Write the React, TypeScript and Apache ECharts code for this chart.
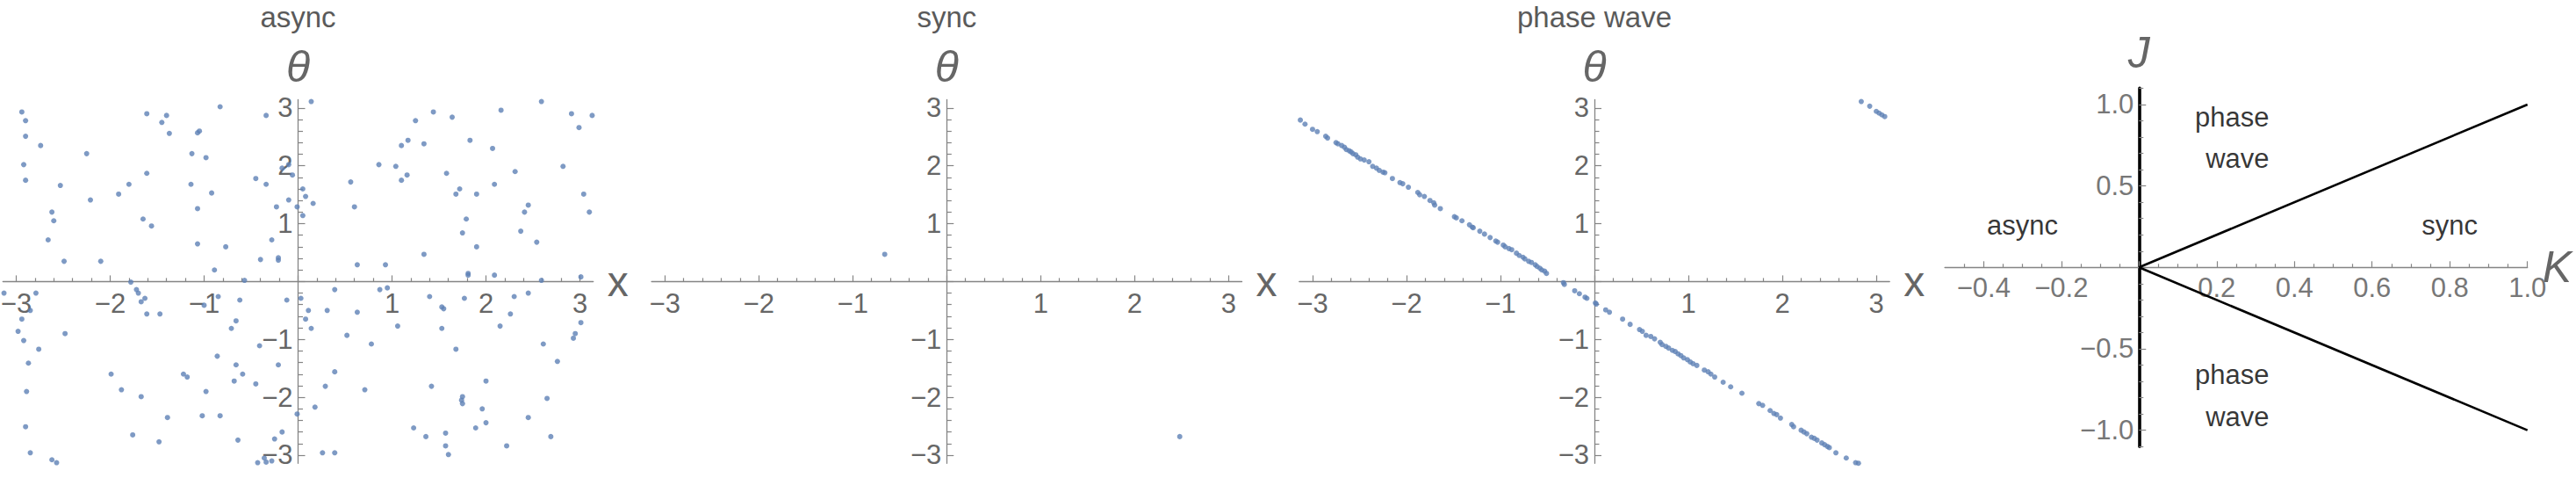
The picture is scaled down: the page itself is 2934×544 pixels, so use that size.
import React, { useEffect, useRef } from 'react';
import * as echarts from 'echarts';

const FONT = "'Liberation Sans', Arial, Helvetica, sans-serif";
const PI = Math.PI;

// ---------------- data ----------------
const panelTitles = ['async', 'sync', 'phase wave'];

const asyncPoints: number[][] = [
  [-2.94, 2.93], [-2.90, 2.78], [-2.90, 2.51], [-2.74, 2.35], [-2.92, 2.02], [-2.90, 1.75], [-2.53, 1.66],
  [-2.25, 2.21], [-2.21, 1.41], [-2.62, 1.20], [-2.60, 1.05], [-2.66, 0.72], [-2.49, 0.35], [-2.10, 0.35],
  [-1.91, 1.51], [-1.80, 1.68], [-1.61, 1.87], [-1.61, 2.90], [-1.45, 2.75], [-1.40, 2.87], [-1.37, 2.56],
  [-1.65, 1.08], [-1.56, 0.96], [-1.13, 2.21], [-1.07, 2.57], [-1.05, 2.60], [-0.98, 2.14], [-1.14, 1.68],
  [-0.92, 1.53], [-1.07, 1.26], [-1.07, 0.65], [-0.77, 0.60], [-0.89, 0.20], [-0.83, 3.02], [-0.34, 2.87],
  [-0.45, 1.78], [-0.34, 1.68], [-0.17, 1.96], [-0.10, 2.02], [-0.06, 1.84], [-0.10, 1.41], [-0.23, 1.29],
  [-0.28, 0.72], [-0.40, 0.38], [-0.21, 0.41], [-0.21, 0.37], [-0.57, 0.02], [-1.78, -0.01], [-0.01, 1.29],
  [0.14, 3.11], [0.05, 1.60], [0.08, 1.47], [0.16, 1.35], [0.05, 1.14], [0.56, 1.72], [0.60, 1.29],
  [0.86, 2.02], [1.04, 1.99], [1.10, 1.75], [1.16, 1.84], [1.10, 2.35], [1.17, 2.44], [1.25, 2.78],
  [1.34, 2.38], [1.44, 2.93], [1.64, 2.84], [1.83, 2.44], [1.58, 1.87], [1.72, 1.60], [1.68, 1.51],
  [1.90, 1.51], [1.79, 1.08], [1.75, 0.84], [1.90, 0.60], [1.34, 0.47], [0.63, 0.29], [0.93, 0.29],
  [1.81, 0.14], [1.81, 0.11], [2.16, 2.96], [2.07, 2.30], [2.09, 1.68], [2.31, 1.90], [2.41, 1.20],
  [2.45, 1.32], [2.37, 0.87], [2.54, 0.68], [2.59, 3.11], [2.91, 2.90], [2.99, 2.66], [2.82, 1.99],
  [3.04, 1.51], [3.10, 1.20], [3.13, 2.87], [2.09, 0.11], [2.59, 0.02], [3.01, 0.08],
  [-3.13, -0.20], [-2.79, -0.20], [-2.85, -0.50], [-2.94, -0.65], [-2.98, -0.86], [-2.92, -1.02],
  [-2.76, -1.17], [-2.87, -1.41], [-2.89, -1.90], [-2.90, -2.51], [-2.85, -2.96], [-2.62, -3.08],
  [-2.57, -3.13], [-2.48, -0.90], [-1.99, -1.60], [-1.88, -1.87], [-1.72, -0.14], [-1.70, -0.20],
  [-1.63, -0.29], [-1.67, -0.35], [-1.61, -0.56], [-1.47, -0.56], [-1.67, -1.99], [-1.76, -2.65],
  [-1.48, -2.77], [-1.39, -2.35], [-1.22, -1.60], [-1.18, -1.65], [-1.00, -0.41], [-0.85, -0.26],
  [-0.98, -1.90], [-1.02, -2.32], [-0.83, -2.32], [-0.86, -1.29], [-0.71, -0.81], [-0.66, -0.68],
  [-0.62, -0.32], [-0.66, -1.44], [-0.59, -1.60], [-0.68, -1.72], [-0.45, -1.77], [-0.41, -1.11],
  [-0.21, -1.44], [-0.12, -0.32], [-0.64, -2.74], [-0.25, -2.72], [-0.17, -2.60], [-0.01, -2.29],
  [-0.43, -3.13], [-0.34, -3.12], [-0.28, -3.10], [-0.36, -3.05],
  [0.03, -0.29], [0.11, -0.50], [0.08, -0.65], [0.14, -0.81], [0.31, -0.50], [0.39, -0.14], [0.63, -0.53],
  [0.52, -0.93], [0.78, -1.08], [0.87, -0.14], [0.95, -0.11], [1.06, -0.77], [0.39, -1.56], [0.29, -1.81],
  [0.71, -1.87], [0.18, -2.17], [0.26, -2.96], [0.39, -2.96], [1.40, -0.26], [1.53, -0.44], [1.55, -0.47],
  [1.53, -0.81], [1.68, -1.17], [1.42, -1.81], [1.23, -2.53], [1.36, -2.68], [1.57, -2.62], [1.57, -2.84],
  [1.60, -2.99], [1.77, -0.29], [1.75, -1.99], [1.74, -2.05], [1.75, -2.11], [1.96, -2.20], [2.00, -1.72],
  [2.00, -2.44], [1.89, -2.53], [2.15, -0.77], [2.26, -0.56], [2.30, -0.26], [2.45, -0.20], [2.22, -2.84],
  [2.45, -2.35], [2.61, -1.08], [2.65, -2.02], [2.69, -2.68], [2.76, -1.38], [2.93, -0.98], [2.95, -0.90],
  [3.01, -0.71],
];

const syncPoints: number[][] = [
  [-0.66, 0.47], [2.48, -2.68],
];

const phaseWavePoints: number[][] = [
  [-3.13, 2.79], [-3.08, 2.72], [-3.00, 2.63], [-2.95, 2.59], [-2.86, 2.51], [-2.84, 2.48], [-2.75, 2.40],
  [-2.73, 2.38], [-2.69, 2.35], [-2.66, 2.32], [-2.64, 2.28], [-2.61, 2.26], [-2.59, 2.24], [-2.57, 2.21],
  [-2.54, 2.19], [-2.52, 2.15], [-2.49, 2.12], [-2.45, 2.10], [-2.40, 2.07], [-2.36, 1.99], [-2.32, 1.96],
  [-2.29, 1.92], [-2.25, 1.89], [-2.23, 1.88], [-2.15, 1.78], [-2.07, 1.71], [-2.04, 1.69], [-1.98, 1.63],
  [-1.88, 1.54], [-1.86, 1.50], [-1.81, 1.47], [-1.75, 1.40], [-1.71, 1.36], [-1.70, 1.32], [-1.64, 1.26],
  [-1.49, 1.12], [-1.47, 1.10], [-1.41, 1.05], [-1.33, 0.98], [-1.30, 0.94], [-1.29, 0.93], [-1.22, 0.87],
  [-1.17, 0.82], [-1.11, 0.76], [-1.05, 0.70], [-1.03, 0.68], [-0.97, 0.63], [-0.95, 0.60], [-0.91, 0.57],
  [-0.88, 0.55], [-0.83, 0.49], [-0.80, 0.45], [-0.76, 0.42], [-0.74, 0.39], [-0.70, 0.35], [-0.67, 0.33],
  [-0.63, 0.29], [-0.61, 0.26], [-0.58, 0.23], [-0.56, 0.20], [-0.53, 0.18], [-0.51, 0.14],
  [-0.33, -0.02], [-0.32, -0.05], [-0.21, -0.16], [-0.16, -0.21], [-0.10, -0.27], [-0.08, -0.29],
  [0.01, -0.37], [0.02, -0.39],
  [0.12, -0.49], [0.16, -0.53], [0.30, -0.65], [0.38, -0.74], [0.48, -0.83], [0.51, -0.86], [0.55, -0.93],
  [0.60, -0.95], [0.64, -0.99], [0.70, -1.05], [0.72, -1.09], [0.76, -1.12], [0.79, -1.15], [0.83, -1.19],
  [0.86, -1.21], [0.89, -1.25], [0.92, -1.28], [0.95, -1.32], [0.99, -1.35], [1.02, -1.39], [1.05, -1.42],
  [1.09, -1.45], [1.17, -1.53], [1.21, -1.56], [1.24, -1.60], [1.28, -1.65], [1.37, -1.74], [1.45, -1.82],
  [1.57, -1.93], [1.75, -2.11], [1.79, -2.14], [1.87, -2.23], [1.91, -2.28], [1.94, -2.30], [1.98, -2.36],
  [2.10, -2.47], [2.12, -2.51], [2.20, -2.57], [2.23, -2.60], [2.26, -2.63], [2.31, -2.69], [2.34, -2.71],
  [2.37, -2.74], [2.42, -2.79], [2.45, -2.82], [2.48, -2.85], [2.50, -2.87], [2.57, -2.96], [2.68, -3.05],
  [2.78, -3.13], [2.81, -3.14],
  [2.84, 3.11], [2.93, 3.03], [3.00, 2.94], [3.03, 2.91], [3.06, 2.88], [3.09, 2.85],
];

const boundaryUpper: number[][] = [[0, 0], [1, 1]];
const boundaryLower: number[][] = [[0, 0], [1, -1]];

const regionLabels = [
  { text: 'async', K: -0.30, J: 0.26, align: 'center' },
  { text: 'sync', K: 0.80, J: 0.26, align: 'center' },
  { text: 'phase\nwave', K: 0.335, J: 0.795, align: 'right' },
  { text: 'phase\nwave', K: 0.335, J: -0.79, align: 'right' },
];

const thetaMajorTicks = [-3, -2, -1, 0, 1, 2, 3];
const thetaTickLabels = [-3, -2, -1, 1, 2, 3];
const kMajorTicks = [-0.4, -0.2, 0, 0.2, 0.4, 0.6, 0.8, 1.0];
const kTickLabels = [-0.4, -0.2, 0.2, 0.4, 0.6, 0.8, 1.0];
const jMajorTicks = [-1, -0.5, 0, 0.5, 1];
const jTickLabels = [-1, -0.5, 0.5, 1];

// ---------------- helpers ----------------
function minorTicks(lo: number, hi: number, step: number, majors: number[], skip: number[] = []) {
  const out: number[] = [];
  const n0 = Math.ceil(lo / step - 1e-9);
  const n1 = Math.floor(hi / step + 1e-9);
  for (let n = n0; n <= n1; n++) {
    const v = Math.round(n * step * 1000) / 1000;
    if (majors.some((m) => Math.abs(m - v) < 1e-6)) continue;
    if (skip.some((m) => Math.abs(m - v) < 1e-6)) continue;
    out.push(v);
  }
  return out;
}

const MINUS = '\u2212';
const fmtInt = (v: number) => (v < 0 ? MINUS + Math.abs(v) : String(v));
const fmtDec = (v: number) => (v < 0 ? MINUS : '') + Math.abs(v).toFixed(1);

const AXIS_GRAY = '#858585';
const LABEL_GRAY = '#666666';
const TICK_FONT = 31;

interface AxisSpec {
  grid: number;
  dim: 'x' | 'y';
  min: number;
  max: number;
  crossFrac: number;
  span: number;
  majors: number[];
  labels: number[];
  minors: number[];
  fmt: (v: number) => string;
  name: string;
  nameGap: number;
  nameStyle: any;
  lineColor: string;
  lineWidth: number;
  majorLen: number;
  minorLen: number;
  labelMargin: number;
  labelColor: string;
}

function buildAxes(s: AxisSpec) {
  const position = s.dim === 'x' ? 'bottom' : 'left';
  const offset = -s.span * s.crossFrac;
  return [
    {
      type: 'value',
      gridIndex: s.grid,
      min: s.min,
      max: s.max,
      position,
      offset,
      axisLine: {
        show: true,
        onZero: false,
        lineStyle: { color: s.lineColor, width: s.lineWidth },
      },
      axisTick: {
        show: true,
        inside: true,
        length: s.majorLen,
        customValues: s.majors,
        lineStyle: { color: AXIS_GRAY, width: 1.2 },
      },
      minorTick: { show: false },
      axisLabel: {
        show: true,
        customValues: s.labels,
        formatter: s.fmt,
        margin: s.labelMargin,
        fontSize: TICK_FONT,
        color: s.labelColor,
        fontFamily: FONT,
      },
      splitLine: { show: false },
      name: s.name,
      nameLocation: 'end',
      nameGap: s.nameGap,
      nameTextStyle: s.nameStyle,
      nameMoveOverlap: false,
      z: 1,
    },
    {
      type: 'value',
      gridIndex: s.grid,
      min: s.min,
      max: s.max,
      position,
      offset,
      axisLine: { show: false, onZero: false },
      axisTick: {
        show: true,
        inside: true,
        length: s.minorLen,
        customValues: s.minors,
        lineStyle: { color: AXIS_GRAY, width: 1.2 },
      },
      minorTick: { show: false },
      axisLabel: { show: false },
      splitLine: { show: false },
      z: 1,
    },
  ];
}

// ---------------- layout ----------------
const THETA_LEFTS = [3.3, 742.1, 1479.8];
const THETA_TOP = 113.5;
const THETA_W = 672.4;
const THETA_H = 413.8;
const PD = { left: 2215.1, top: 100.4, width: 663.6, height: 407.8 };
const K_RANGE = [-0.5, 1.0];
const J_RANGE = [-1.1, 1.1];

function buildOption() {
  const grids: any[] = THETA_LEFTS.map((l) => ({
    left: l, top: THETA_TOP, width: THETA_W, height: THETA_H, containLabel: false, outerBoundsMode: 'none',
  }));
  grids.push({ ...PD, containLabel: false, outerBoundsMode: 'none' });

  const thetaMinors = minorTicks(-PI, PI, 0.2, thetaMajorTicks);
  const xAxes: any[] = [];
  const yAxes: any[] = [];

  const thetaNameStyle = { fontSize: 50, fontStyle: 'italic', color: LABEL_GRAY, fontFamily: FONT };
  const xNameStyle = { fontSize: 48, color: LABEL_GRAY, fontFamily: FONT, padding: [6, 0, 0, 0] };
  const thetaZeroFrac = (0 - -PI) / (PI - -PI);

  for (let g = 0; g < 3; g++) {
    xAxes.push(...buildAxes({
      grid: g, dim: 'x', min: -PI, max: PI, crossFrac: thetaZeroFrac, span: THETA_H,
      majors: thetaMajorTicks, labels: thetaTickLabels, minors: thetaMinors,
      fmt: fmtInt, name: 'x', nameGap: 16, nameStyle: xNameStyle, lineColor: AXIS_GRAY, lineWidth: 1.3,
      majorLen: 7, minorLen: 4, labelMargin: 10, labelColor: LABEL_GRAY,
    }));
    yAxes.push(...buildAxes({
      grid: g, dim: 'y', min: -PI, max: PI, crossFrac: thetaZeroFrac, span: THETA_W,
      majors: thetaMajorTicks, labels: thetaTickLabels, minors: thetaMinors,
      fmt: fmtInt, name: 'θ', nameGap: 13, nameStyle: thetaNameStyle, lineColor: AXIS_GRAY, lineWidth: 1.3,
      majorLen: 8, minorLen: 5.5, labelMargin: 6, labelColor: LABEL_GRAY,
    }));
  }

  const phaseGray = '#777777';
  xAxes.push(...buildAxes({
    grid: 3, dim: 'x', min: K_RANGE[0], max: K_RANGE[1],
    crossFrac: (0 - J_RANGE[0]) / (J_RANGE[1] - J_RANGE[0]), span: PD.height,
    majors: kMajorTicks, labels: kTickLabels,
    minors: minorTicks(K_RANGE[0], K_RANGE[1], 0.05, kMajorTicks, [K_RANGE[0]]),
    fmt: fmtDec, name: 'K', nameGap: 17,
    nameStyle: { fontSize: 50, fontStyle: 'italic', color: LABEL_GRAY, fontFamily: FONT, padding: [3, 0, 0, 0] },
    lineColor: AXIS_GRAY, lineWidth: 1.3, majorLen: 7, minorLen: 4, labelMargin: 8, labelColor: phaseGray,
  }));
  yAxes.push(...buildAxes({
    grid: 3, dim: 'y', min: J_RANGE[0], max: J_RANGE[1],
    crossFrac: (0 - K_RANGE[0]) / (K_RANGE[1] - K_RANGE[0]), span: PD.width,
    majors: jMajorTicks, labels: jTickLabels,
    minors: minorTicks(J_RANGE[0], J_RANGE[1], 0.1, jMajorTicks),
    fmt: fmtDec, name: 'J', nameGap: 15,
    nameStyle: { fontSize: 50, fontStyle: 'italic', color: LABEL_GRAY, fontFamily: FONT },
    lineColor: '#000000', lineWidth: 3.6, majorLen: 8, minorLen: 5, labelMargin: 6, labelColor: phaseGray,
  }));

  const dotStyle = { color: '#5E81B5' };
  const pointSets = [asyncPoints, syncPoints, phaseWavePoints];
  const series: any[] = pointSets.map((pts, g) => ({
    type: 'scatter',
    xAxisIndex: 2 * g,
    yAxisIndex: 2 * g,
    data: pts,
    symbol: 'circle',
    symbolSize: 6,
    itemStyle: dotStyle,
    silent: true,
    z: 3,
  }));

  [boundaryUpper, boundaryLower].forEach((line) => {
    series.push({
      type: 'line',
      xAxisIndex: 6,
      yAxisIndex: 6,
      data: line,
      symbol: 'none',
      showSymbol: false,
      lineStyle: { color: '#000000', width: 2.6 },
      silent: true,
      z: 3,
    });
  });

  series.push({
    type: 'scatter',
    xAxisIndex: 6,
    yAxisIndex: 6,
    symbolSize: 1,
    itemStyle: { color: 'rgba(0,0,0,0)' },
    silent: true,
    z: 4,
    data: regionLabels.map((r) => ({
      value: [r.K, r.J],
      label: { formatter: r.text, align: r.align },
    })),
    label: {
      show: true,
      position: 'inside',
      color: '#000000',
      fontSize: 31,
      lineHeight: 47.5,
      verticalAlign: 'middle',
      fontFamily: FONT,
    },
  });

  const titles = panelTitles.map((t, g) => ({
    text: t,
    left: THETA_LEFTS[g] + THETA_W / 2,
    top: 3,
    textAlign: 'center',
    padding: 0,
    textStyle: { fontSize: 33, fontWeight: 'normal', color: '#5a5a5a', fontFamily: FONT },
  }));

  return {
    animation: false,
    backgroundColor: '#ffffff',
    title: titles,
    grid: grids,
    xAxis: xAxes,
    yAxis: yAxes,
    series,
  };
}

export default function App() {
  const ref = useRef<HTMLDivElement>(null);
  useEffect(() => {
    if (!ref.current) return;
    const chart = echarts.init(ref.current, null, { renderer: 'svg' });
    chart.setOption(buildOption() as any);
    return () => {
      chart.dispose();
    };
  }, []);
  return (
    <div
      ref={ref}
      style={{ position: 'fixed', left: 0, top: 0, width: 2934, height: 544, background: '#ffffff' }}
    />
  );
}
